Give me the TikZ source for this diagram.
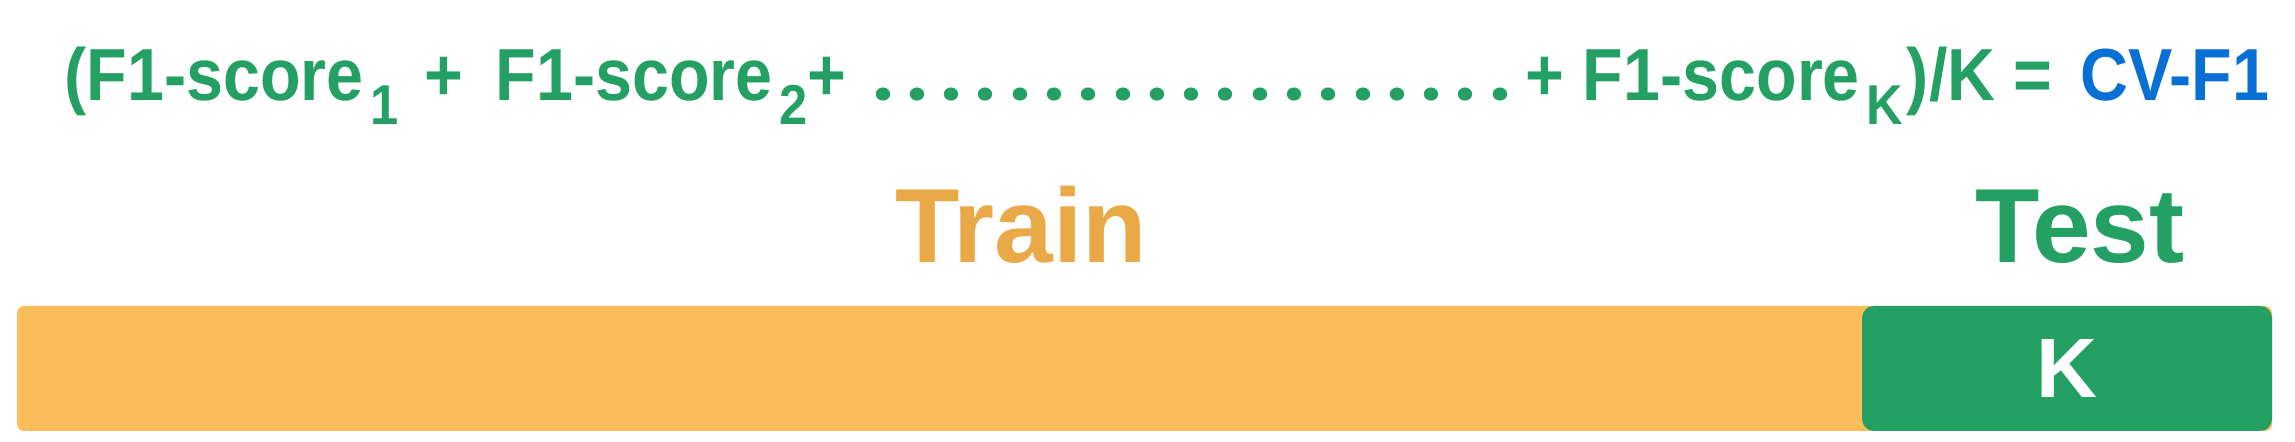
\documentclass[tikz,border=0pt]{standalone}
\usepackage{fontspec}
\usepackage{tikz}
\usepackage{xcolor}
\usetikzlibrary{positioning}
\setmainfont{Liberation Sans}
\newfontfamily\formulafont[FakeStretch=0.9]{Liberation Sans Bold}
\newfontfamily\dotfont{Poppins}
\definecolor{cvgreen}{HTML}{24A064}
\definecolor{cvblue}{HTML}{0870D4}
\definecolor{trainbar}{HTML}{FDBD5B}
\definecolor{traintext}{HTML}{E9A946}
\newcommand{\fsub}[1]{\kern2pt\raisebox{-6.8pt}{\fontsize{16}{18}\selectfont #1}}
\tikzstyle{formula} = [inner sep=0pt, 
anchor=base west, 
text=cvgreen, 
font=\formulafont\fontsize{21}{25}\selectfont]
\tikzstyle{fdot} = [inner sep=0pt, 
anchor=base, 
text=cvgreen, 
font=\dotfont\bfseries\fontsize{20}{22}\selectfont]
\tikzstyle{foldlabel} = [inner sep=0pt, 
anchor=base, 
font=\bfseries\fontsize{30}{34}\selectfont]
\tikzstyle{trainbox} = [rectangle, rounded corners=2pt, 
minimum width=22.55cm, 
minimum height=1.25cm, 
fill=trainbar]
\tikzstyle{testbox} = [rectangle, rounded corners=3.4pt, 
minimum width=4.10cm, 
minimum height=1.25cm, 
fill=cvgreen, text=white, 
font=\bfseries\fontsize{24}{28}\selectfont]

\begin{document}
\begin{tikzpicture}
        \useasboundingbox (0,0) rectangle (22.95,4.42);

        % --- Formula ---
        \node (sum1) [formula] at (0.64,3.41) {(F1-score\fsub{1}};
        \node (plus1) [formula] at (4.24,3.41) {+};
        \node (sum2) [formula] at (4.95,3.41) {F1-score\fsub{2}+};
        \foreach \i in {0,...,18}
            \node (dot\i) [fdot] at ({8.83+0.3428*\i},3.41) {.};
        \node (sumk) [formula] at (15.25,3.41) {+ F1-score\fsub{K}\kern1pt)/K =};
        \node (cvf1) [formula, text=cvblue] at (20.80,3.41) {CV-F1};

        % --- Fold bar ---
        \node (train) [trainbox] at (11.445,0.735) {};
        \node (test) [testbox] at (20.67,0.735) {K};

        % --- Labels ---
        \node (trainlabel) [foldlabel, text=traintext] at (10.21,1.79) {Train};
        \node (testlabel) [foldlabel, text=cvgreen] at (20.80,1.79) {Test};

\end{tikzpicture}
\end{document}
